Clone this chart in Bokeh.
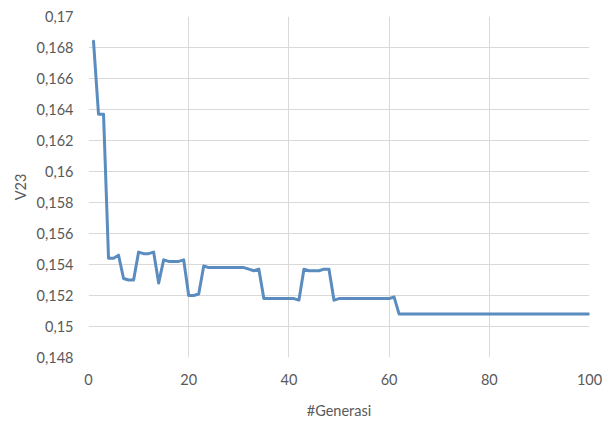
from bokeh.plotting import figure
from bokeh.models import FixedTicker, Range1d
from bokeh.embed import file_html
from bokeh.resources import INLINE

generasi = list(range(1, 101))
v23 = ([0.1684, 0.1637, 0.1637, 0.1544, 0.1544, 0.1546, 0.1531, 0.1530, 0.1530, 0.1548,
        0.1547, 0.1547, 0.1548, 0.1528, 0.1543, 0.1542, 0.1542, 0.1542, 0.1543, 0.1520,
        0.1520, 0.1521, 0.1539, 0.1538, 0.1538, 0.1538, 0.1538, 0.1538, 0.1538, 0.1538,
        0.1538, 0.1537, 0.1536, 0.1537, 0.1518, 0.1518, 0.1518, 0.1518, 0.1518, 0.1518,
        0.1518, 0.1517, 0.1537, 0.1536, 0.1536, 0.1536, 0.1537, 0.1537, 0.1517, 0.1518,
        0.1518, 0.1518, 0.1518, 0.1518, 0.1518, 0.1518, 0.1518, 0.1518, 0.1518, 0.1518,
        0.1519, 0.1508]
       + [0.1508] * 38)

x_ticks = [0, 20, 40, 60, 80, 100]
y_ticks = [0.148, 0.15, 0.152, 0.154, 0.156, 0.158, 0.16, 0.162, 0.164, 0.166, 0.168, 0.17]
y_tick_labels = ["0,148", "0,15", "0,152", "0,154", "0,156", "0,158", "0,16", "0,162",
                 "0,164", "0,166", "0,168", "0,17"]

p = figure(width=605, height=421, output_backend="svg", toolbar_location=None,
           x_range=Range1d(0, 100), y_range=Range1d(0.148, 0.17),
           min_border_left=88, min_border_right=16, min_border_top=16, min_border_bottom=64)

p.line(generasi, v23, line_color="#5B8CBF", line_width=3, line_join="round", line_cap="round")

FONT = "Lato"
TXT = "#595959"

p.xaxis.ticker = FixedTicker(ticks=x_ticks)
p.yaxis.ticker = FixedTicker(ticks=y_ticks)
p.yaxis.major_label_overrides = {t: l for t, l in zip(y_ticks, y_tick_labels)}

for ax in (p.xaxis[0], p.yaxis[0]):
    ax.axis_line_color = None
    ax.major_tick_line_color = None
    ax.minor_tick_line_color = None
    ax.major_tick_out = 0
    ax.major_tick_in = 0
    ax.minor_tick_out = 0
    ax.minor_tick_in = 0
    ax.major_label_text_font = FONT
    ax.major_label_text_font_size = "14.5px"
    ax.major_label_text_color = TXT
    ax.axis_label_text_font = FONT
    ax.axis_label_text_font_size = "14.5px"
    ax.axis_label_text_color = TXT
    ax.axis_label_text_font_style = "normal"

p.xaxis.axis_label = "#Generasi"
p.yaxis.axis_label = "V23"
p.xaxis.major_label_standoff = 16
p.xaxis.axis_label_standoff = 14
p.yaxis.major_label_standoff = 15
p.yaxis.axis_label_standoff = 5

p.xgrid.grid_line_color = "#D9D9D9"
p.ygrid.grid_line_color = "#D9D9D9"
p.outline_line_color = None
p.background_fill_color = "white"
p.border_fill_color = "white"

open("out.html", "w").write(file_html(p, INLINE))
